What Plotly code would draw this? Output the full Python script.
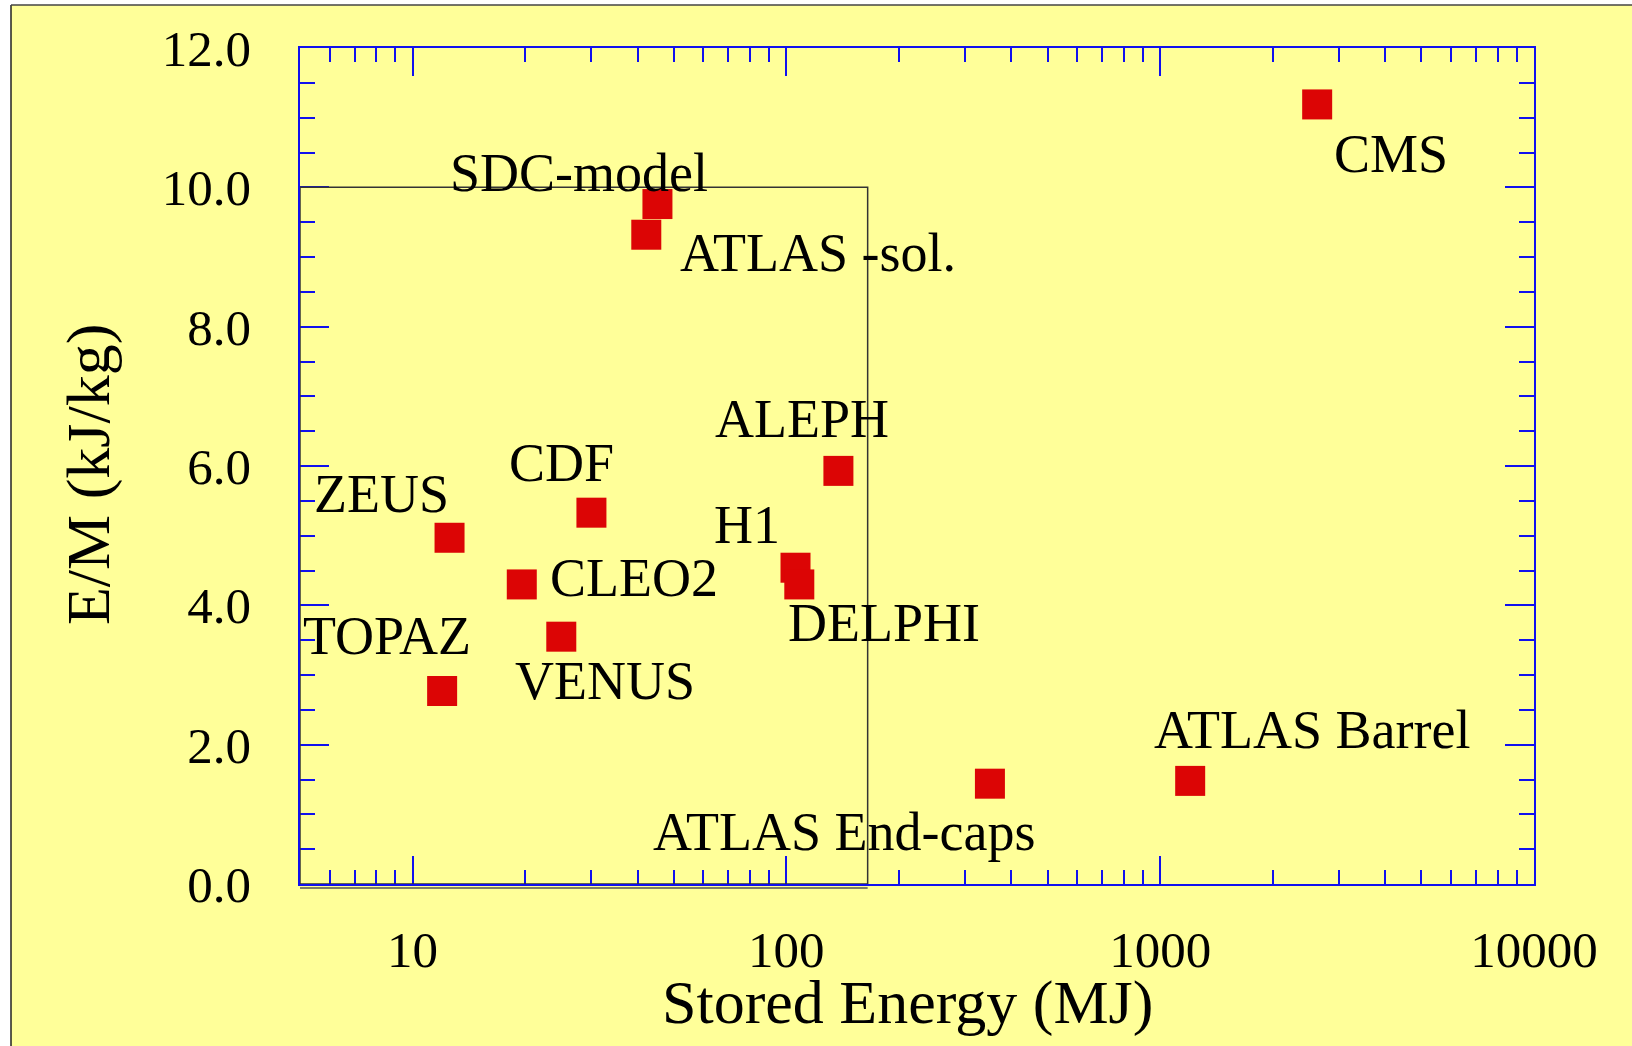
import numpy as np
import plotly.graph_objects as go

# Detector magnets: stored energy (MJ) vs energy-to-mass ratio (kJ/kg)
names = ["CMS", "SDC-model", "ATLAS -sol.", "ALEPH", "CDF", "ZEUS", "H1",
         "CLEO2", "DELPHI", "TOPAZ", "VENUS", "ATLAS End-caps", "ATLAS Barrel"]
stored_energy = [2630, 45.2, 42.2, 137.8, 30.1, 12.56, 105.8,
                 19.6, 108.3, 12.0, 25.0, 350.4, 1203]
e_over_m = [11.19, 9.76, 9.32, 5.93, 5.33, 4.97, 4.54,
            4.30, 4.30, 2.77, 3.55, 1.44, 1.48]

x_tick_vals = [10, 100, 1000, 10000]
x_tick_text = ["10", "100", "1000", "10000"]

# label placement relative to each marker: (anchor, dx, dy) in pixels
label_place = {
    "CMS": ("left", 16, -50),
    "SDC-model": ("right", 52, 31),
    "ATLAS -sol.": ("left", 33, -18),
    "ALEPH": ("right", 52, 52),
    "CDF": ("right", 24, 50),
    "ZEUS": ("right", 0, 44),
    "H1": ("right", -15, 43),
    "CLEO2": ("left", 27, 6),
    "DELPHI": ("left", -12, -39),
    "TOPAZ": ("right", 30, 55),
    "VENUS": ("left", -47, -44),
    "ATLAS End-caps": ("right", 46, -48),
    "ATLAS Barrel": ("left", -37, 51),
}

FONT = "Liberation Serif, Times New Roman, serif"
BLUE = "#1010ee"
YELLOW = "#ffff99"

# plot-area geometry in pixels (used to place paper-referenced items)
W, H = 1632, 1046
L, R, T, B = 300, 98, 48, 162
PW, PH = W - L - R, H - T - B


def px_x(p):
    return (p - L) / PW


def px_y(p):
    return (H - B - p) / PH


fig = go.Figure()
fig.add_trace(go.Scatter(
    x=stored_energy, y=e_over_m, mode="markers",
    marker=dict(symbol="square", size=30, color="#dc0505", line=dict(width=0)),
    hoverinfo="text", text=names, showlegend=False,
))

for n, xv, yv in zip(names, stored_energy, e_over_m):
    anchor, dx, dy = label_place[n]
    fig.add_annotation(
        x=np.log10(xv), y=yv, xref="x", yref="y", text=n, showarrow=False,
        xanchor=anchor, yanchor="middle", xshift=dx, yshift=dy, borderpad=0,
        font=dict(family=FONT, size=54, color="black"),
    )

# region box around the older detectors
fig.add_shape(type="rect", xref="x", yref="y", x0=5, x1=165, y0=0, y1=10,
              line=dict(color="#333333", width=1.5), layer="above")
fig.add_shape(type="line", xref="x", yref="paper", x0=5, x1=165,
              y0=px_y(888), y1=px_y(888), line=dict(color="#555555", width=1.5))

# page frame: white strip on the left and top with a dark edge
fig.add_shape(type="rect", xref="paper", yref="paper", x0=px_x(-20), x1=px_x(11),
              y0=-1, y1=2, line=dict(width=0), fillcolor="white", layer="below")
fig.add_shape(type="rect", xref="paper", yref="paper", x0=-1, x1=2,
              y0=px_y(5), y1=px_y(-20), line=dict(width=0), fillcolor="white", layer="below")
fig.add_shape(type="line", xref="paper", yref="paper", x0=px_x(11), x1=px_x(11),
              y0=px_y(1100), y1=px_y(5), line=dict(color="#222222", width=1.5))
fig.add_shape(type="line", xref="paper", yref="paper", x0=px_x(11), x1=px_x(1700),
              y0=px_y(5), y1=px_y(5), line=dict(color="#444444", width=1.5))

fig.update_xaxes(
    type="log", range=[np.log10(5), 4],
    tickvals=x_tick_vals, ticktext=x_tick_text,
    ticks="inside", ticklen=28, tickwidth=1.5, tickcolor=BLUE,
    minor=dict(ticks="inside", ticklen=14, tickwidth=1.5, tickcolor=BLUE, dtick="D1"),
    showline=True, linecolor=BLUE, linewidth=1.5, mirror="allticks",
    showgrid=False, zeroline=False,
    tickfont=dict(family=FONT, size=51, color="black"),
    ticklabelstandoff=20,
)
fig.update_yaxes(
    range=[0, 12], dtick=2, tick0=0, tickformat=".1f",
    ticks="inside", ticklen=29, tickwidth=1.5, tickcolor=BLUE,
    minor=dict(ticks="inside", ticklen=15, tickwidth=1.5, tickcolor=BLUE, dtick=0.5),
    showline=True, linecolor=BLUE, linewidth=1.5, mirror="allticks",
    showgrid=False, zeroline=False,
    tickfont=dict(family=FONT, size=51, color="black"),
    ticklabelstandoff=37,
)

# axis titles
fig.add_annotation(text="Stored Energy (MJ)", xref="paper", yref="paper",
                   x=px_x(907), y=px_y(1002),
                   xanchor="center", yanchor="middle", showarrow=False,
                   font=dict(family=FONT, size=62, color="black"))
fig.add_annotation(text="E/M (kJ/kg)", xref="paper", yref="paper",
                   x=px_x(88), y=px_y(475), textangle=-90,
                   xanchor="center", yanchor="middle", showarrow=False,
                   font=dict(family=FONT, size=62, color="black"))

fig.update_layout(
    width=W, height=H,
    margin=dict(l=L, r=R, t=T, b=B),
    paper_bgcolor=YELLOW, plot_bgcolor=YELLOW,
)

fig.write_html("out.html")
